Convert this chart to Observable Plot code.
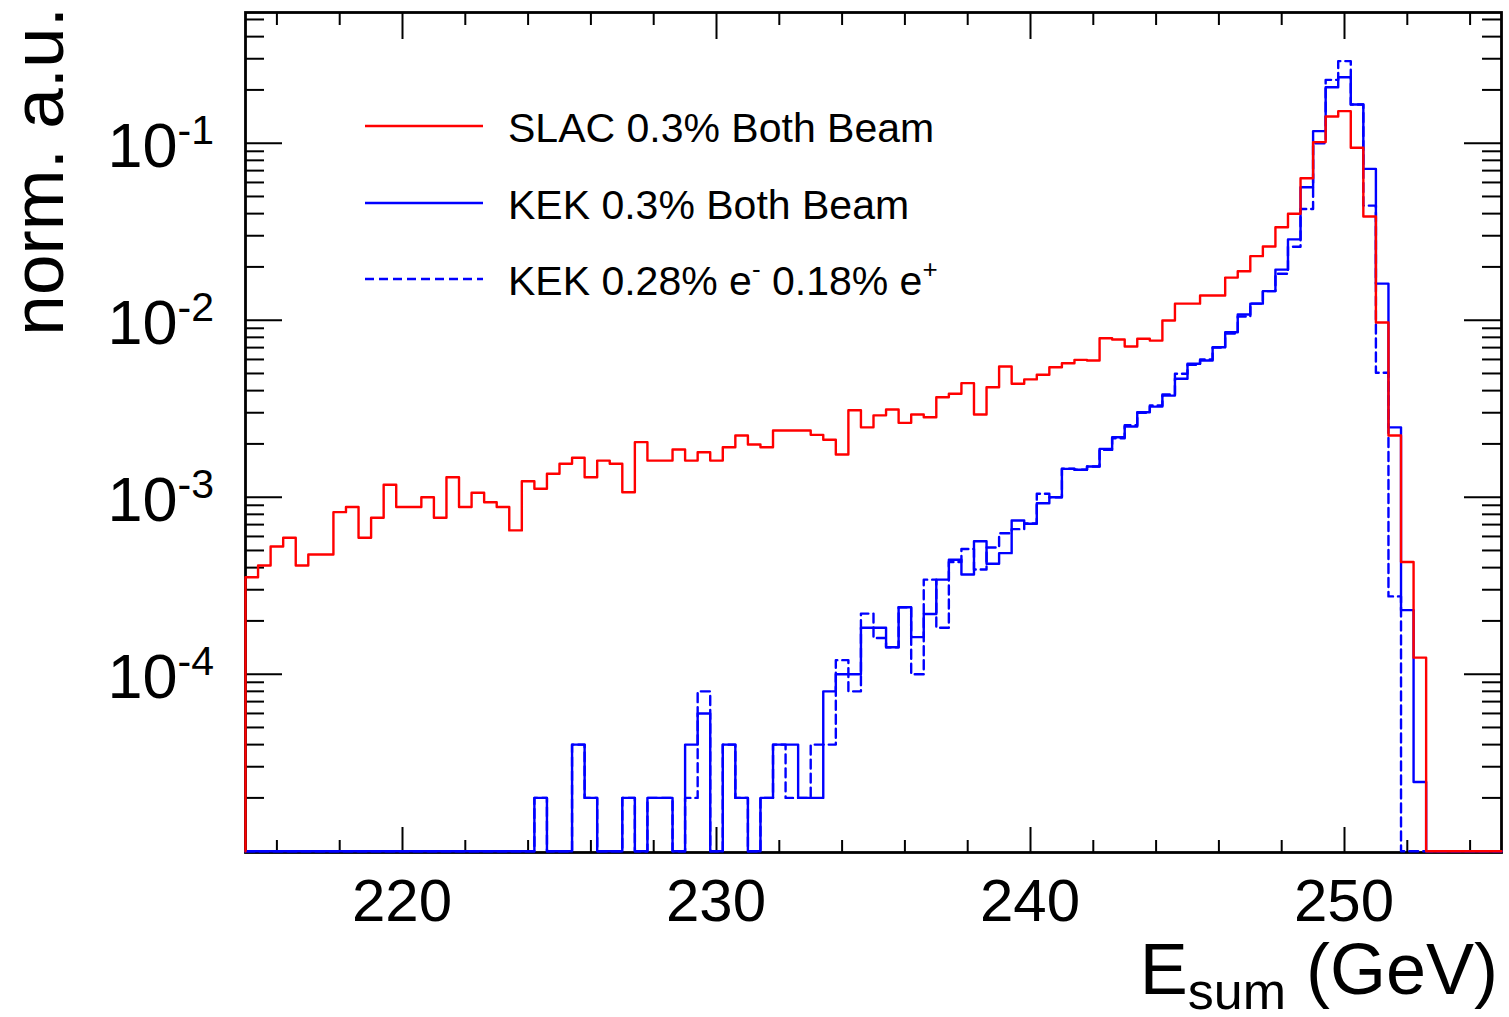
<!DOCTYPE html>
<html>
<head>
<meta charset="utf-8">
<script src="https://cdn.jsdelivr.net/npm/d3@7"></script>
<script src="https://cdn.jsdelivr.net/npm/@observablehq/plot@0.6"></script>
<style>
  html, body { margin: 0; padding: 0; background: #fff; }
  svg { display: block; }
  text { font-family: "Liberation Sans", Arial, Helvetica, sans-serif; }
</style>
</head>
<body>
<div id="chart"></div>
<script>
// ---------------- data (100 bins of 0.4 GeV, 215 .. 255 GeV) ----------------
const binStart = 215;
const binWidth = 0.4;

const slac = [
  3.53e-4, 4.11e-4, 5.26e-4, 5.9e-4, 4.11e-4, 4.74e-4, 4.74e-4, 8.23e-4, 8.8e-4, 5.9e-4,
  7.65e-4, 1.175e-3, 8.8e-4, 8.8e-4, 1.0e-3, 7.65e-4, 1.297e-3, 8.8e-4, 1.059e-3, 9.37e-4,
  8.8e-4, 6.49e-4, 1.231e-3, 1.115e-3, 1.356e-3, 1.545e-3, 1.671e-3, 1.297e-3, 1.61e-3, 1.545e-3,
  1.067e-3, 2.046e-3, 1.61e-3, 1.61e-3, 1.861e-3, 1.61e-3, 1.795e-3, 1.61e-3, 1.915e-3, 2.23e-3,
  1.986e-3, 1.915e-3, 2.38e-3, 2.38e-3, 2.38e-3, 2.25e-3, 2.11e-3, 1.742e-3, 3.1e-3, 2.48e-3,
  2.9e-3, 3.13e-3, 2.63e-3, 2.93e-3, 2.83e-3, 3.67e-3, 3.84e-3, 4.41e-3, 2.93e-3, 4.18e-3,
  5.47e-3, 4.37e-3, 4.63e-3, 4.92e-3, 5.42e-3, 5.71e-3, 5.97e-3, 5.92e-3, 7.91e-3, 7.78e-3,
  7.1e-3, 7.85e-3, 7.67e-3, 9.96e-3, 1.24e-2, 1.24e-2, 1.38e-2, 1.38e-2, 1.74e-2, 1.89e-2,
  2.30e-2, 2.61e-2, 3.35e-2, 3.99e-2, 6.34e-2, 0.1014, 0.1416, 0.1517, 0.0942, 0.0385,
  9.7e-3, 2.23e-3, 4.3e-4, 1.24e-4, 0, 0, 0, 0, 0, 0
];

const kek = [
  0, 0, 0, 0, 0, 0, 0, 0, 0, 0,
  0, 0, 0, 0, 0, 0, 0, 0, 0, 0,
  0, 0, 0, 2e-5, 0, 0, 4e-5, 2e-5, 0, 0,
  2e-5, 0, 2e-5, 2e-5, 0, 4e-5, 6e-5, 0, 4e-5, 2e-5,
  0, 2e-5, 4e-5, 4e-5, 2e-5, 2e-5, 8e-5, 1.0e-4, 1.0e-4, 1.83e-4,
  1.83e-4, 1.42e-4, 2.39e-4, 1.62e-4, 2.19e-4, 3.42e-4, 4.43e-4, 3.66e-4, 5.64e-4, 4.21e-4,
  4.83e-4, 7.38e-4, 7.08e-4, 9.25e-4, 1.0e-3, 1.446e-3, 1.43e-3, 1.49e-3, 1.876e-3, 2.18e-3,
  2.51e-3, 3.02e-3, 3.25e-3, 3.75e-3, 4.67e-3, 5.67e-3, 5.92e-3, 7.03e-3, 8.55e-3, 1.076e-2,
  1.24e-2, 1.46e-2, 1.93e-2, 2.86e-2, 5.64e-2, 0.117, 0.207, 0.236, 0.1655, 0.0716,
  0.0161, 2.48e-3, 2.3e-4, 2.46e-5, 0, 0, 0, 0, 0, 0
];

const kekAsym = [
  0, 0, 0, 0, 0, 0, 0, 0, 0, 0,
  0, 0, 0, 0, 0, 0, 0, 0, 0, 0,
  0, 0, 0, 2e-5, 0, 0, 4e-5, 2e-5, 0, 0,
  2e-5, 0, 2e-5, 2e-5, 0, 2e-5, 8e-5, 0, 4e-5, 2e-5,
  0, 2e-5, 4e-5, 2e-5, 2e-5, 4e-5, 4e-5, 1.2e-4, 8e-5, 2.2e-4,
  1.6e-4, 1.42e-4, 2.39e-4, 1.0e-4, 3.42e-4, 1.83e-4, 4.3e-4, 5.1e-4, 3.9e-4, 5.2e-4,
  6.26e-4, 6.6e-4, 7.1e-4, 1.045e-3, 1.0e-3, 1.45e-3, 1.43e-3, 1.49e-3, 1.85e-3, 2.15e-3,
  2.55e-3, 3.0e-3, 3.3e-3, 3.8e-3, 4.98e-3, 5.6e-3, 6.0e-3, 7.0e-3, 8.4e-3, 1.05e-2,
  1.24e-2, 1.46e-2, 1.83e-2, 2.6e-2, 4.25e-2, 0.1, 0.228, 0.291, 0.1655, 0.0444,
  5.05e-3, 2.75e-4, 0, 0, 0, 0, 0, 0, 0, 0
];

const seriesNames = ["SLAC 0.3% Both Beam", "KEK 0.3% Both Beam", "KEK 0.28% e- 0.18% e+"];
const xTickLabels = [220, 230, 240, 250];
const xMinorTicks = [216, 218, 222, 224, 226, 228, 232, 234, 236, 238, 242, 244, 246, 248, 252, 254];
const yTickExponents = [-1, -2, -3, -4];
const xDomain = [215, 255];
const yDomain = [9.83e-6, 0.5475];
const yFloor = 1e-5;   // empty bins are drawn at the pad minimum

// ---------------- layout ----------------
const W = 1509, H = 1017;
const mL = 245, mR = 8, mT = 12, mB = 165;
const pw = W - mL - mR, ph = H - mT - mB;

function histPoints(vals) {
  const pts = [{x: binStart, y: yFloor}];
  vals.forEach((v, i) => pts.push({x: binStart + i * binWidth, y: Math.max(v, yFloor)}));
  pts.push({x: binStart + vals.length * binWidth, y: Math.max(vals[vals.length - 1], yFloor)});
  return pts;
}

const yMajor = yTickExponents.map(e => Math.pow(10, e));
const yMinor = [];
for (let e = -5; e <= -1; e++) for (let k = 2; k <= 9; k++) {
  const v = k * Math.pow(10, e);
  if (v < yDomain[1]) yMinor.push(v);
}

const tickStyle = {stroke: "black", strokeWidth: 2};
const plot = Plot.plot({
  width: W, height: H,
  marginLeft: mL, marginRight: mR, marginTop: mT, marginBottom: mB,
  x: {domain: xDomain, axis: null},
  y: {type: "log", domain: yDomain, axis: null},
  style: {background: "white", overflow: "visible"},
  marks: [
    Plot.tickX(xTickLabels, {x: d => d, insetTop: ph - 25, ...tickStyle}),
    Plot.tickX(xMinorTicks, {x: d => d, insetTop: ph - 12, ...tickStyle}),
    Plot.tickX(xTickLabels, {x: d => d, insetBottom: ph - 27, ...tickStyle}),
    Plot.tickX(xMinorTicks, {x: d => d, insetBottom: ph - 13, ...tickStyle}),
    Plot.tickY(yMajor, {y: d => d, insetRight: pw - 37, ...tickStyle}),
    Plot.tickY(yMinor, {y: d => d, insetRight: pw - 19, ...tickStyle}),
    Plot.tickY(yMajor, {y: d => d, insetLeft: pw - 37, ...tickStyle}),
    Plot.tickY(yMinor, {y: d => d, insetLeft: pw - 19, ...tickStyle}),
    Plot.frame({stroke: "black", strokeWidth: 2.8}),
    Plot.line(histPoints(kek), {x: "x", y: "y", curve: "step-after", stroke: "#0000ff", strokeWidth: 2.4}),
    Plot.line(histPoints(kekAsym), {x: "x", y: "y", curve: "step-after", stroke: "#0000ff", strokeWidth: 2.4, strokeDasharray: "9,5"}),
    Plot.line(histPoints(slac), {x: "x", y: "y", curve: "step-after", stroke: "#ff0000", strokeWidth: 2.4})
  ]
});

document.getElementById("chart").appendChild(plot);
const svg = d3.select(plot);
const xs = plot.scale("x"), ys = plot.scale("y");

// x tick labels
xTickLabels.forEach(v => {
  svg.append("text").attr("x", xs.apply(v)).attr("y", 921)
    .attr("text-anchor", "middle").attr("font-size", 60).attr("fill", "black").text(String(v));
});

// y tick labels 10^e
yTickExponents.forEach(e => {
  const yy = ys.apply(Math.pow(10, e));
  const t = svg.append("text").attr("x", 214).attr("y", yy + 24)
    .attr("text-anchor", "end").attr("font-size", 63).attr("fill", "black");
  t.append("tspan").text("10");
  t.append("tspan").attr("dy", -23).attr("font-size", 41).text(String(e));
});

// axis titles
const xt = svg.append("text").attr("x", 1498).attr("y", 994)
  .attr("text-anchor", "end").attr("font-size", 72).attr("fill", "black");
xt.append("tspan").text("E");
xt.append("tspan").attr("dy", 15).attr("font-size", 52).text("sum");
xt.append("tspan").attr("dy", -15).text(" (GeV)");

svg.append("text").attr("transform", "translate(63,7) rotate(-90)")
  .attr("text-anchor", "end").attr("font-size", 73).attr("fill", "black").text("norm. a.u.");

// legend
const legend = [
  {name: seriesNames[0], color: "#ff0000", dash: null, y: 126},
  {name: seriesNames[1], color: "#0000ff", dash: null, y: 203},
  {name: seriesNames[2], color: "#0000ff", dash: "9,5", y: 279}
];
legend.forEach((d, i) => {
  svg.append("line").attr("x1", 365).attr("x2", 483).attr("y1", d.y).attr("y2", d.y)
    .attr("stroke", d.color).attr("stroke-width", 2.4).attr("stroke-dasharray", d.dash);
  const t = svg.append("text").attr("x", 508).attr("y", d.y + 16)
    .attr("text-anchor", "start").attr("font-size", 41).attr("fill", "black");
  if (i < 2) {
    t.text(d.name);
  } else {
    t.append("tspan").text("KEK 0.28% e");
    t.append("tspan").attr("dy", -17).attr("font-size", 26).text("-");
    t.append("tspan").attr("dy", 17).text(" 0.18% e");
    t.append("tspan").attr("dy", -17).attr("font-size", 26).text("+");
  }
});
</script>
</body>
</html>
